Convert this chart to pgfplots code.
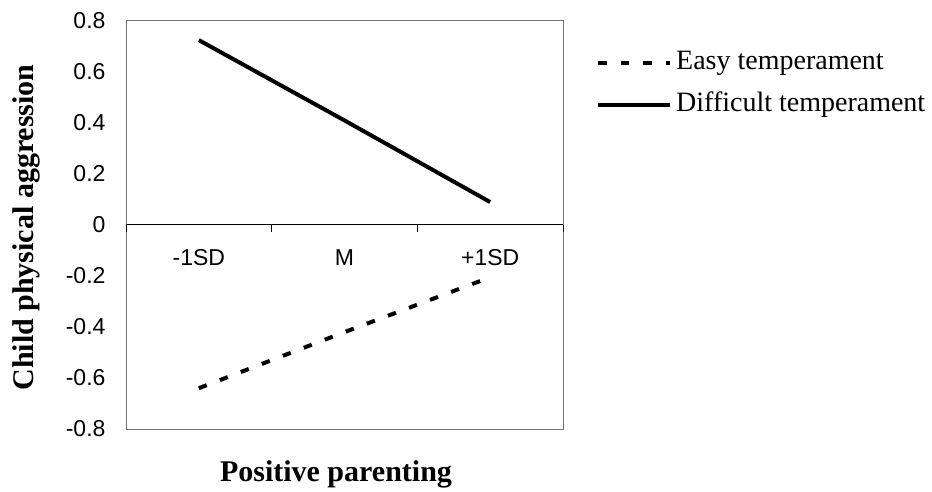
\documentclass[border=0pt]{standalone}
\usepackage{pgfplots}
\pgfplotsset{compat=1.18}
\usepackage{fontspec}
\setmainfont{Liberation Serif}
\newfontfamily\arial{Liberation Sans}
\begin{document}
\begin{tikzpicture}[x=1pt,y=1pt]
\useasboundingbox (0,0) rectangle (932,491);
\begin{axis}[
  at={(126pt,62pt)}, anchor=south west,
  scale only axis, width=437pt, height=408pt,
  xmin=0.5, xmax=3.5, ymin=-0.8, ymax=0.8,
  xtick={1,2,3}, xticklabels={-1SD,M,+1SD},
  ytick={-0.8,-0.6,-0.4,-0.2,0,0.2,0.4,0.6,0.8},
  yticklabels={-0.8,-0.6,-0.4,-0.2,0,0.2,0.4,0.6,0.8},
  major tick length=0pt,
  axis line style={draw=black!55, line width=1pt},
  ticklabel style={font=\arial\fontsize{23}{27}\selectfont},
  yticklabel style={xshift=-17pt},
  xticklabel style={anchor=center, yshift=171pt},
  label style={font=\fontsize{30}{36}\selectfont\bfseries},
  xlabel={Positive parenting},
  xlabel style={at={(axis description cs:0.4805,-0.1292)}, anchor=base},
  ylabel={Child physical aggression},
  ylabel style={at={(axis description cs:-0.2128,0.494)}, anchor=base, rotate=0},
  legend style={draw=none, fill=none, at={(axis description cs:1.0686,0.846)}, anchor=west,
    font=\fontsize{28}{33}\selectfont, row sep=15pt,
    nodes={inner sep=0pt, text height=20pt, text depth=7pt}},
  legend cell align=left,
  legend image code/.code={\draw[#1] (0pt,0pt) -- (72pt,0pt); \path (76pt,0pt);},
  clip=false,
]
\draw[black, line width=1pt] (axis cs:0.5,0) -- (axis cs:3.5,0);
\draw[black, line width=1pt] (axis cs:0.5,0) -- ++(0pt,-7pt);
\draw[black, line width=1pt] (axis cs:1.5,0) -- ++(0pt,-7pt);
\draw[black, line width=1pt] (axis cs:2.5,0) -- ++(0pt,-7pt);
\draw[black, line width=1pt] (axis cs:3.5,0) -- ++(0pt,-7pt);
\addplot[black, line width=4pt, dash pattern=on 8.5pt off 14pt] coordinates {(1,-0.64) (2,-0.42) (3,-0.205)};
\addlegendentry{Easy temperament}
\addplot[black, line width=4pt] coordinates {(1,0.725) (2,0.41) (3,0.09)};
\addlegendentry{Difficult temperament}
\end{axis}
\end{tikzpicture}
\end{document}
